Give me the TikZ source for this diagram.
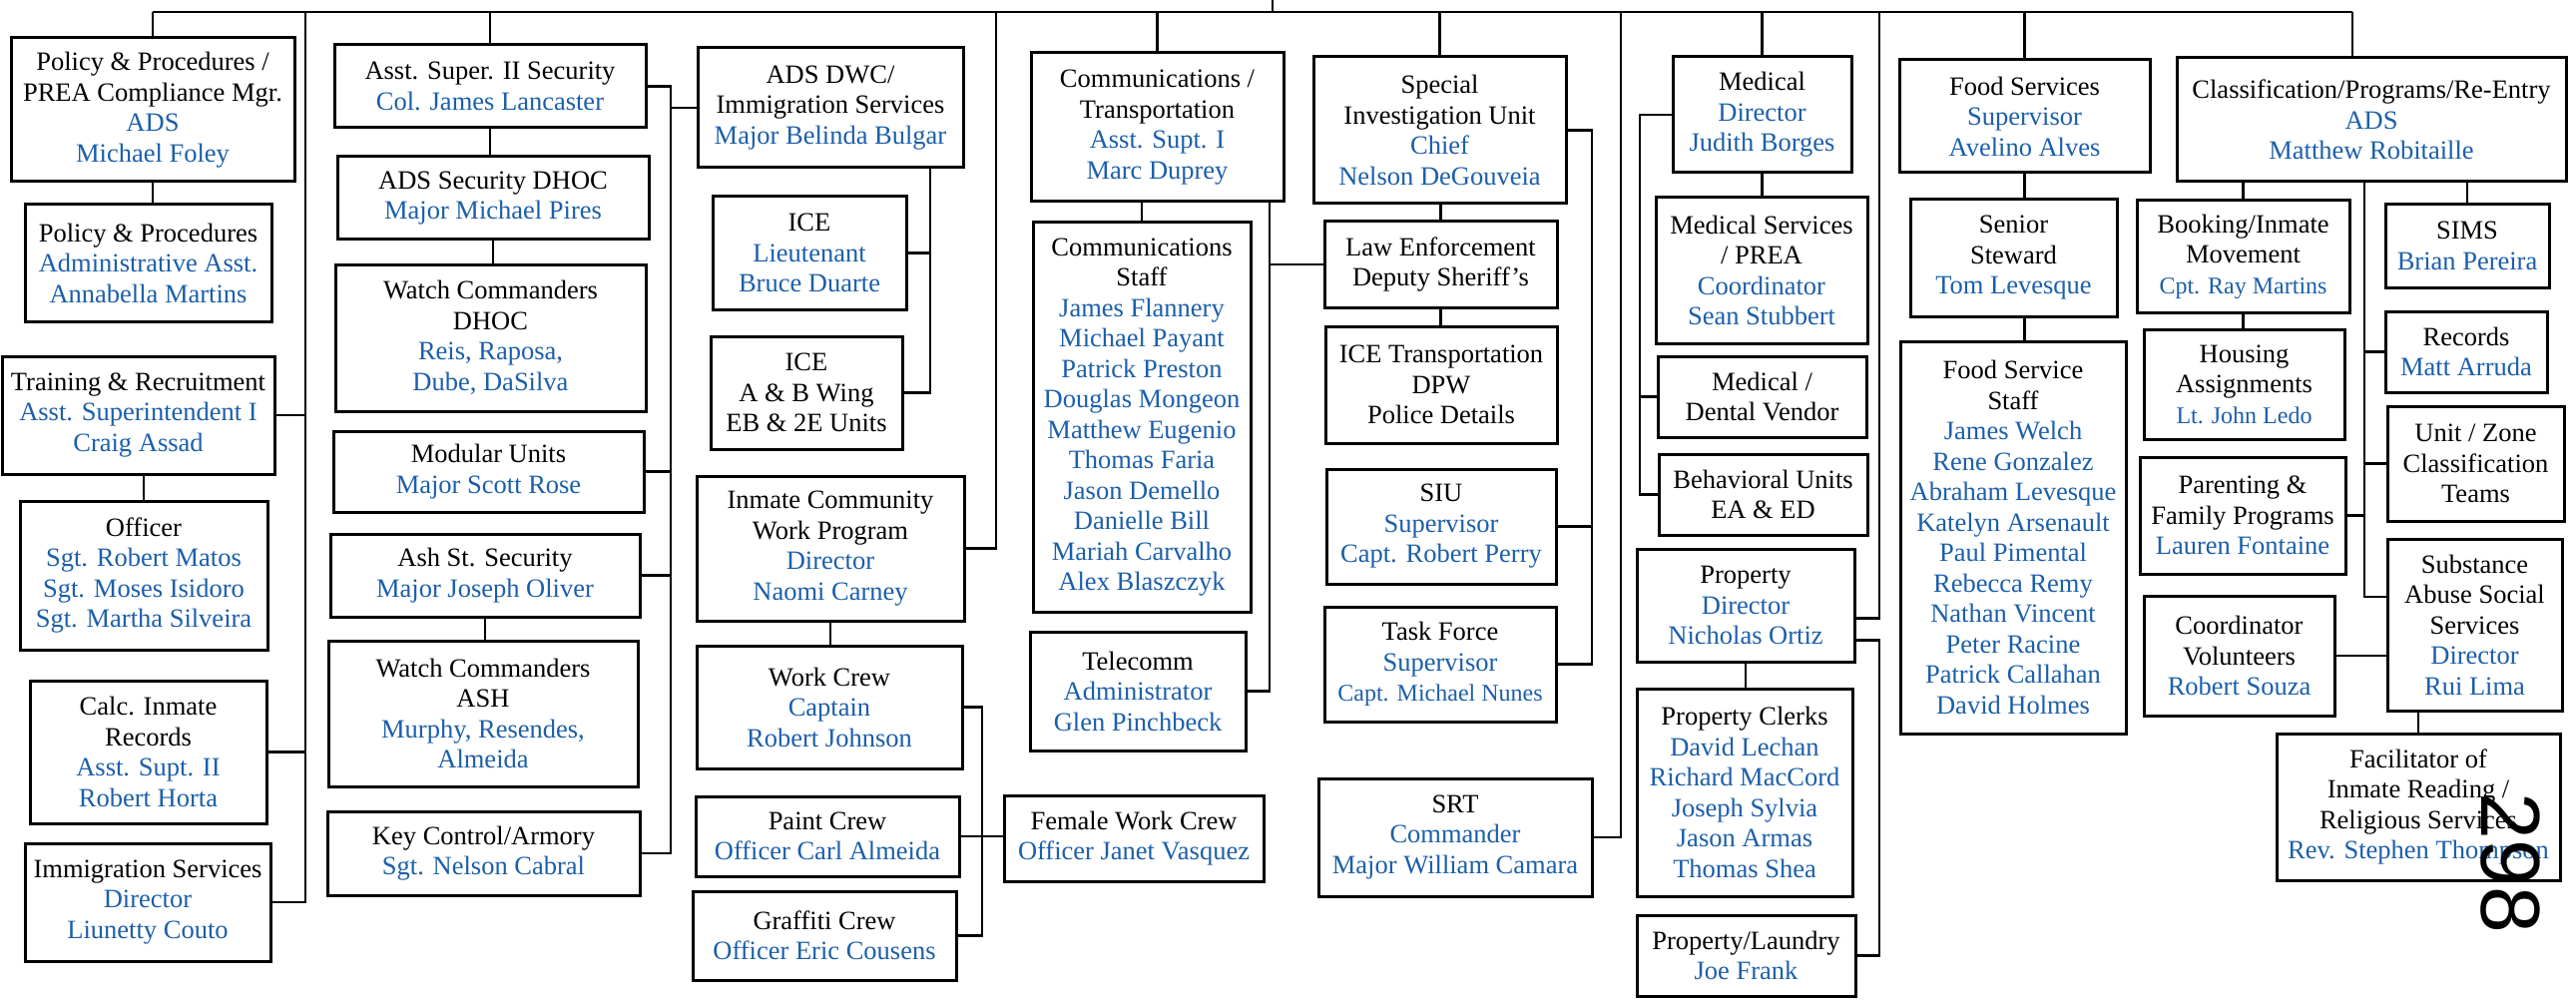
\documentclass[tikz,border=0pt]{standalone}
\usepackage{fontspec}
\setmainfont{Liberation Serif}
\newfontfamily\numfont{Liberation Sans}
\usetikzlibrary{calc}
\definecolor{nb}{RGB}{28,95,170}
\newcommand\nm[1]{\textcolor{nb}{#1}}
\newcommand\nms[1]{\textcolor{nb}{\fontsize{24}{30.5}\selectfont #1}}
\tikzset{
  box/.style={draw, line width=3pt, inner sep=0pt, align=center,
    font=\fontsize{26.5}{30.5}\selectfont},
  ln/.style={line width=2.5pt}
}
\newcommand\bx[6]{\node[box, minimum width={(#4-#2)*1pt}, minimum height={(#5-#3)*1pt}] (#1) at ({(#2+#4)/2},{(#3+#5)/2}) {#6};}
\begin{document}
\begin{tikzpicture}[x=1pt,y=-1pt]
\useasboundingbox[fill=white] (0,0) rectangle (2581,1003);
% column 1
\bx{pp}{11}{38}{295}{182}{Policy \& Procedures /\\PREA Compliance Mgr.\\\nm{ADS}\\\nm{Michael Foley}}
\bx{ppa}{25}{205}{272}{322}{Policy \& Procedures\\\nm{Administrative Asst.}\\\nm{Annabella Martins}}
\bx{tr}{2}{357}{275}{475}{Training \& Recruitment\\\nm{Asst. Superintendent I}\\\nm{Craig Assad}}
\bx{off}{20}{502}{268}{651}{Officer\\\nm{Sgt. Robert Matos}\\\nm{Sgt. Moses Isidoro}\\\nm{Sgt. Martha Silveira}}
\bx{calc}{30}{682}{267}{825}{Calc. Inmate\\Records\\\nm{Asst. Supt. II}\\\nm{Robert Horta}}
\bx{imm}{25}{845}{271}{963}{Immigration Services\\\nm{Director}\\\nm{Liunetty Couto}}
% column 2
\bx{as2}{335}{45}{647}{128}{Asst. Super. II Security\\\nm{Col. James Lancaster}}
\bx{adsd}{338}{157}{650}{240}{ADS Security DHOC\\\nm{Major Michael Pires}}
\bx{wcd}{336}{265}{647}{412}{Watch Commanders\\DHOC\\\nm{Reis, Raposa,}\\\nm{Dube, DaSilva}}
\bx{mod}{334}{432}{645}{513}{Modular Units\\\nm{Major Scott Rose}}
\bx{ash}{331}{535}{641}{618}{Ash St. Security\\\nm{Major Joseph Oliver}}
\bx{wca}{329}{642}{639}{788}{Watch Commanders\\ASH\\\nm{Murphy, Resendes,}\\\nm{Almeida}}
\bx{key}{328}{813}{641}{897}{Key Control/Armory\\\nm{Sgt. Nelson Cabral}}
% column 3
\bx{dwc}{699}{48}{965}{168}{ADS DWC/\\Immigration Services\\\nm{Major Belinda Bulgar}}
\bx{icel}{714}{197}{908}{310}{ICE\\\nm{Lieutenant}\\\nm{Bruce Duarte}}
\bx{iceab}{712}{337}{904}{450}{ICE\\A \& B Wing\\EB \& 2E Units}
\bx{icwp}{698}{477}{966}{622}{Inmate Community\\Work Program\\\nm{Director}\\\nm{Naomi Carney}}
\bx{wc}{698}{647}{964}{770}{Work Crew\\\nm{Captain}\\\nm{Robert Johnson}}
\bx{paint}{697}{798}{961}{878}{Paint Crew\\\nm{Officer Carl Almeida}}
\bx{graf}{694}{893}{958}{982}{Graffiti Crew\\\nm{Officer Eric Cousens}}
\bx{fem}{1006}{797}{1266}{883}{Female Work Crew\\\nm{Officer Janet Vasquez}}
% column 4
\bx{comm}{1033}{53}{1286}{202}{Communications /\\Transportation\\\nm{Asst. Supt. I}\\\nm{Marc Duprey}}
\bx{cstaff}{1035}{223}{1253}{613}{Communications\\Staff\\\nm{James Flannery}\\\nm{Michael Payant}\\\nm{Patrick Preston}\\\nm{Douglas Mongeon}\\\nm{Matthew Eugenio}\\\nm{Thomas Faria}\\\nm{Jason Demello}\\\nm{Danielle Bill}\\\nm{Mariah Carvalho}\\\nm{Alex Blaszczyk}}
\bx{tel}{1032}{633}{1248}{752}{Telecomm\\\nm{Administrator}\\\nm{Glen Pinchbeck}}
% column 5
\bx{siuc}{1316}{57}{1569}{204}{Special\\Investigation Unit\\\nm{Chief}\\\nm{Nelson DeGouveia}}
\bx{le}{1327}{222}{1560}{308}{Law Enforcement\\Deputy Sheriff’s}
\bx{icet}{1328}{327}{1560}{444}{ICE Transportation\\DPW\\Police Details}
\bx{siu}{1329}{470}{1559}{585}{SIU\\\nm{Supervisor}\\\nm{Capt. Robert Perry}}
\bx{tf}{1327}{608}{1559}{723}{Task Force\\\nm{Supervisor}\\\nms{Capt. Michael Nunes}}
\bx{srt}{1321}{780}{1595}{898}{SRT\\\nm{Commander}\\\nm{Major William Camara}}
% column 6
\bx{med}{1676}{57}{1855}{173}{Medical\\\nm{Director}\\\nm{Judith Borges}}
\bx{meds}{1659}{198}{1871}{344}{Medical Services\\/ PREA\\\nm{Coordinator}\\\nm{Sean Stubbert}}
\bx{dent}{1661}{357}{1870}{438}{Medical /\\Dental Vendor}
\bx{beh}{1662}{455}{1871}{536}{Behavioral Units\\EA \& ED}
\bx{prop}{1640}{550}{1858}{663}{Property\\\nm{Director}\\\nm{Nicholas Ortiz}}
\bx{pclk}{1640}{690}{1856}{898}{Property Clerks\\\nm{David Lechan}\\\nm{Richard MacCord}\\\nm{Joseph Sylvia}\\\nm{Jason Armas}\\\nm{Thomas Shea}}
\bx{plaun}{1640}{917}{1859}{998}{Property/Laundry\\\nm{Joe Frank}}
% column 7
\bx{food}{1903}{60}{2154}{173}{Food Services\\\nm{Supervisor}\\\nm{Avelino Alves}}
\bx{ss}{1914}{200}{2121}{317}{Senior\\Steward\\\nm{Tom Levesque}}
\bx{fss}{1904}{342}{2130}{735}{Food Service\\Staff\\\nm{James Welch}\\\nm{Rene Gonzalez}\\\nm{Abraham Levesque}\\\nm{Katelyn Arsenault}\\\nm{Paul Pimental}\\\nm{Rebecca Remy}\\\nm{Nathan Vincent}\\\nm{Peter Racine}\\\nm{Patrick Callahan}\\\nm{David Holmes}}
% column 8
\bx{cls}{2181}{58}{2571}{182}{Classification/Programs/Re-Entry\\\nm{ADS}\\\nm{Matthew Robitaille}}
\bx{book}{2141}{201}{2354}{313}{Booking/Inmate\\Movement\\\nms{Cpt. Ray Martins}}
\bx{hous}{2148}{330}{2349}{440}{Housing\\Assignments\\\nms{Lt. John Ledo}}
\bx{par}{2144}{458}{2350}{575}{Parenting \&\\Family Programs\\\nm{Lauren Fontaine}}
\bx{coord}{2148}{597}{2339}{717}{Coordinator\\Volunteers\\\nm{Robert Souza}}
\bx{sims}{2390}{205}{2554}{288}{SIMS\\\nm{Brian Pereira}}
\bx{rec}{2390}{312}{2552}{393}{Records\\\nm{Matt Arruda}}
\bx{uz}{2392}{407}{2569}{522}{Unit / Zone\\Classification\\Teams}
\bx{sub}{2392}{540}{2567}{712}{Substance\\Abuse Social\\Services\\\nm{Director}\\\nm{Rui Lima}}
\bx{fac}{2281}{735}{2565}{882}{Facilitator of\\Inmate Reading /\\Religious Services\\\nm{Rev. Stephen Thompson}}
% bus coordinates
\coordinate (root) at (1275,0);
\coordinate (barL) at (153,12);
\coordinate (barR) at (2357,12);
\coordinate (bL) at (306,12);
\coordinate (bW) at (998,12);
\coordinate (bS) at (1624,12);
\coordinate (bP) at (1883,12);
\coordinate (bA) at (672,0);
\coordinate (bD) at (932,0);
\coordinate (bC) at (984,0);
\coordinate (bT) at (1272,0);
\coordinate (bU) at (1595,0);
\coordinate (bM) at (1643,0);
\coordinate (bK) at (2369,0);
\coordinate (propA) at ($(prop.east)+(0,13)$);
\coordinate (propB) at ($(prop.east)+(0,35)$);
\coordinate (subA) at ($(sub.west)+(0,-28)$);
% connectors
\begin{scope}[ln]
\draw (barL) -- (barR);
\draw (root) -- (root |- barL);
\draw (barL) -- (pp.north);
\draw (as2.north |- barL) -- (as2.north);
\draw (comm.north |- barL) -- (comm.north);
\draw (siuc.north |- barL) -- (siuc.north);
\draw (med.north |- barL) -- (med.north);
\draw (food.north |- barL) -- (food.north);
\draw (barR) -- (barR |- cls.north);
% left column
\draw (pp.south) -- (pp.south |- ppa.north);
\draw (off.north |- tr.south) -- (off.north);
\draw (bL) -- (bL |- imm.east) -- (imm.east);
\draw (tr.east) -- (tr.east -| bL);
\draw (calc.east) -- (calc.east -| bL);
% security
\draw (as2.south) -- (as2.south |- adsd.north);
\draw (adsd.south) -- (adsd.south |- wcd.north);
\draw (ash.south) -- (ash.south |- wca.north);
\draw (as2.east) -- (as2.east -| bA) -- (bA |- key.east) -- (key.east);
\draw (dwc.west) -- (dwc.west -| bA);
\draw (mod.east) -- (mod.east -| bA);
\draw (ash.east) -- (ash.east -| bA);
% DWC
\draw (dwc.south -| bD) -- (bD |- iceab.east) -- (iceab.east);
\draw (icel.east) -- (icel.east -| bD);
% work program
\draw (bW) -- (bW |- icwp.east) -- (icwp.east);
\draw (icwp.south) -- (icwp.south |- wc.north);
\draw (wc.east) -- (wc.east -| bC) -- (bC |- graf.east) -- (graf.east);
\draw (paint.east) -- (paint.east -| fem.west);
% communications
\draw (cstaff.north |- comm.south) -- (cstaff.north);
\draw (comm.south -| bT) -- (bT |- tel.east) -- (tel.east);
\draw (le.west) -- (le.west -| bT);
% SIU
\draw (le.north |- siuc.south) -- (le.north);
\draw (le.south) -- (le.south |- icet.north);
\draw (siuc.east) -- (siuc.east -| bU) -- (bU |- tf.east) -- (tf.east);
\draw (siu.east) -- (siu.east -| bU);
\draw (bS) -- (bS |- srt.east) -- (srt.east);
% medical
\draw (med.south) -- (med.south |- meds.north);
\draw (med.west) -- (med.west -| bM) -- (bM |- beh.west) -- (beh.west);
\draw (dent.west) -- (dent.west -| bM);
% property
\draw (bP) -- (bP |- propA) -- (propA);
\draw (prop.south) -- (prop.south |- pclk.north);
\draw (propB) -- (propB -| bP) -- (bP |- plaun.east) -- (plaun.east);
% food
\draw (food.south) -- (food.south |- ss.north);
\draw (food.south |- ss.south) -- (food.south |- fss.north);
% classification
\draw (book.north |- cls.south) -- (book.north);
\draw (book.south) -- (book.south |- hous.north);
\draw (sims.north |- cls.south) -- (sims.north);
\draw (cls.south -| bK) -- (bK |- subA) -- (subA);
\draw (rec.west) -- (rec.west -| bK);
\draw (uz.west) -- (uz.west -| bK);
\draw (par.east) -- (par.east -| bK);
\draw (coord.east) -- (coord.east -| sub.west);
\draw (fac.north |- sub.south) -- (fac.north);
\end{scope}
\node[rotate=-90, inner sep=0pt, font=\numfont\fontsize{84}{84}\selectfont] (pg) at (2515,865) {298};
\end{tikzpicture}
\end{document}
